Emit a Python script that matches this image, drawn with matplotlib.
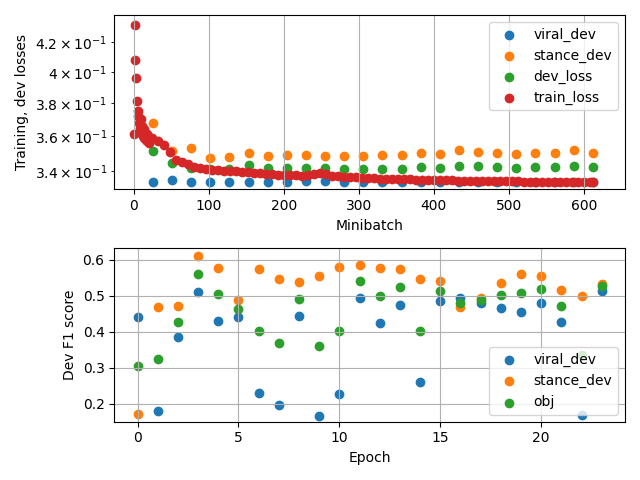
import matplotlib
matplotlib.use("Agg")
import matplotlib.pyplot as plt

dev_x = [25.5 * (k + 1) for k in range(24)]
viral_dev = [0.3340, 0.3351, 0.3337, 0.3337, 0.3337, 0.3337, 0.3340, 0.3337, 0.3343, 0.3343,
             0.3337, 0.3337, 0.3337, 0.3337, 0.3337, 0.3337, 0.3337, 0.3337, 0.3337, 0.3337,
             0.3337, 0.3337, 0.3337, 0.3337]
stance_dev = [0.3676, 0.3514, 0.3528, 0.3475, 0.3481, 0.3504, 0.3483, 0.3490, 0.3490, 0.3483,
              0.3483, 0.3483, 0.3490, 0.3490, 0.3500, 0.3494, 0.3518, 0.3510, 0.3500, 0.3494,
              0.3500, 0.3504, 0.3518, 0.3500]
dev_loss = [0.3514, 0.3447, 0.3419, 0.3410, 0.3410, 0.3434, 0.3419, 0.3419, 0.3419, 0.3419,
            0.3411, 0.3411, 0.3411, 0.3411, 0.3422, 0.3419, 0.3428, 0.3428, 0.3424, 0.3419,
            0.3422, 0.3422, 0.3428, 0.3422]

train_x = list(range(21)) + list(range(24, 609, 8)) + [612]
train_loss = [0.361, 0.432, 0.408, 0.396, 0.381, 0.375, 0.372, 0.368, 0.365, 0.370,
              0.362, 0.366, 0.360, 0.364, 0.359, 0.362, 0.358, 0.361, 0.357, 0.360, 0.356,
              0.359, 0.357, 0.355, 0.351, 0.346, 0.345, 0.344, 0.342, 0.3415, 0.341,
              0.3408, 0.3405, 0.3400, 0.3400, 0.3398, 0.3395, 0.3392, 0.3390, 0.3388, 0.3385,
              0.3382, 0.3380, 0.3378, 0.3378, 0.3376, 0.3375, 0.3378, 0.3385, 0.3390, 0.3385,
              0.3375, 0.3370, 0.3368, 0.3366, 0.3364, 0.3363, 0.3362, 0.3360, 0.3358, 0.3357,
              0.3356, 0.3355, 0.3354, 0.3353, 0.3352, 0.3351, 0.3350, 0.3349, 0.3349, 0.3348,
              0.3348, 0.3347, 0.3347, 0.3346, 0.3346, 0.3345, 0.3345, 0.3344, 0.3344, 0.3344,
              0.3343, 0.3343, 0.3342, 0.3342, 0.3342, 0.3341, 0.3341, 0.3341, 0.3340, 0.3340,
              0.3340, 0.3340, 0.3340, 0.3340, 0.3340]

epochs = list(range(24))
viral_f1 = [0.44, 0.18, 0.385, 0.51, 0.43, 0.44, 0.23, 0.197, 0.445, 0.167, 0.228, 0.495,
            0.423, 0.473, 0.26, 0.485, 0.495, 0.48, 0.466, 0.455, 0.48, 0.427, 0.168, 0.513]
stance_f1 = [0.172, 0.468, 0.472, 0.611, 0.577, 0.487, 0.574, 0.546, 0.538, 0.554, 0.579, 0.585,
             0.577, 0.575, 0.546, 0.541, 0.468, 0.494, 0.535, 0.560, 0.555, 0.515, 0.500, 0.532]
obj_f1 = [0.305, 0.325, 0.428, 0.560, 0.504, 0.463, 0.402, 0.370, 0.490, 0.361, 0.403, 0.541,
          0.498, 0.524, 0.403, 0.513, 0.480, 0.487, 0.502, 0.507, 0.518, 0.471, 0.334, 0.526]

fig, (ax1, ax2) = plt.subplots(2, 1, figsize=(6.4, 4.8), dpi=100)
ax1.scatter(dev_x, viral_dev, label="viral_dev")
ax1.scatter(dev_x, stance_dev, label="stance_dev")
ax1.scatter(dev_x, dev_loss, label="dev_loss")
ax1.scatter(train_x, train_loss, label="train_loss")
ax1.set_yscale("log")
ax1.set_ylim(0.330, 0.439)
ax1.set_xlim(-26, 655)
ax1.grid(True)
ax1.set_xlabel("Minibatch")
ax1.set_ylabel("Training, dev losses")
ax1.legend(loc="upper right")

ax2.scatter(epochs, viral_f1, label="viral_dev")
ax2.scatter(epochs, stance_f1, label="stance_dev")
ax2.scatter(epochs, obj_f1, label="obj")
ax2.set_ylim(0.15, 0.634)
ax2.grid(True)
ax2.set_xlabel("Epoch")
ax2.set_ylabel("Dev F1 score")
ax2.legend(loc="lower right")

fig.tight_layout()
fig.savefig("out.png")
